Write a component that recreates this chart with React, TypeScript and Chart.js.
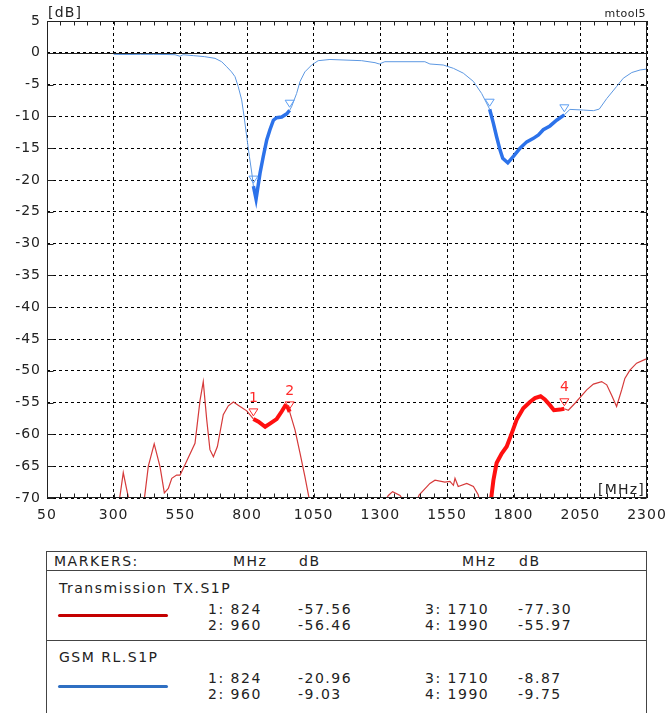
import React, { useEffect, useRef } from 'react';
import { Chart, registerables } from 'chart.js';

Chart.register(...registerables);

// ---------- data ----------
const xTickValues = [50, 300, 550, 800, 1050, 1300, 1550, 1800, 2050, 2300];
const yTickValues = [5, 0, -5, -10, -15, -20, -25, -30, -35, -40, -45, -50, -55, -60, -65, -70];

const blueFreq = [
  300, 350, 400, 450, 500, 530, 549, 560, 600, 640, 680, 705, 724, 742, 755, 767, 780, 789, 799, 809, 818,
  824, 834, 849, 861, 874, 886, 899, 911, 930, 949, 960, 967, 986, 999, 1017, 1043, 1067, 1111, 1230, 1280,
  1296, 1317, 1467, 1486, 1536, 1574, 1611, 1649, 1680, 1710, 1724, 1736, 1749, 1759, 1778, 1799, 1824, 1849,
  1874, 1893, 1911, 1936, 1961, 1990, 2011, 2061, 2099, 2121, 2149, 2186, 2211, 2243, 2274, 2300,
];
const blueDb = [
  -0.25, -0.27, -0.25, -0.25, -0.27, -0.3, -0.55, -0.3, -0.45, -0.6, -0.87, -1.4, -2.2, -3.0, -3.75, -5.3, -7.4,
  -10.0, -13.2, -16.3, -18.9, -20.96, -23.0, -18.9, -16.3, -13.7, -12.1, -10.6, -10.2, -10.1, -9.6, -9.03, -8.5,
  -6.4, -4.5, -3.0, -1.9, -1.24, -1.05, -1.24, -1.55, -1.76, -1.4, -1.4, -1.76, -1.92, -2.44, -3.2, -4.5, -6.4,
  -8.87, -11.1, -13.2, -15.3, -16.6, -17.3, -16.3, -15.0, -14.0, -13.45, -12.9, -12.1, -11.5, -10.6, -9.75,
  -8.9, -9.0, -9.1, -8.85, -7.2, -5.3, -4.0, -3.1, -2.7, -2.55,
];

const redFreq = [
  300, 321, 336, 348, 361, 385, 414, 430, 452, 474, 490, 505, 518, 536, 549, 567, 605, 624, 636, 649, 661, 674,
  689, 711, 730, 749, 774, 799, 824, 843, 868, 886, 911, 930, 943, 952, 960, 980, 999, 1017, 1034, 1060, 1150,
  1280, 1310, 1330, 1346, 1374, 1395, 1420, 1446, 1486, 1505, 1542, 1561, 1574, 1580, 1592, 1624, 1649, 1667,
  1680, 1710, 1715, 1724, 1736, 1755, 1774, 1793, 1811, 1836, 1861, 1880, 1901, 1917, 1936, 1951, 1974, 1990,
  2005, 2030, 2074, 2099, 2130, 2149, 2167, 2186, 2205, 2217, 2236, 2261, 2293, 2300,
];
const redDb = [
  -78, -70.5, -66.0, -68.5, -71, -75, -70.5, -65, -61.5, -65.1, -69.2, -68.5, -66.9, -66.4, -66.4, -64.8, -61.4,
  -54.6, -51.7, -57.7, -62.4, -63.5, -61.9, -56.9, -55.5, -54.9, -55.6, -56.3, -57.56, -58.0, -58.8, -58.3,
  -57.6, -56.4, -55.5, -55.7, -56.46, -59.3, -63.0, -66.6, -70.3, -76, -80, -75, -71, -69.6, -69.0, -69.6, -71,
  -72, -69.5, -67.7, -67.2, -67.5, -67.4, -68.0, -66.9, -68.2, -67.7, -68.2, -69.5, -72, -77.3, -70.3, -67.2,
  -64.5, -63.0, -61.9, -59.8, -57.7, -55.9, -54.9, -54.3, -54.0, -54.5, -55.4, -56.2, -56.1, -55.97, -56.2,
  -55.1, -53.0, -52.1, -51.7, -52.2, -53.8, -55.6, -53.0, -51.2, -49.9, -48.8, -48.2, -48.1,
];

const markerFreq = [824, 960, 1710, 1990];
const markerLabels = ['1', '2', '3', '4'];
const redMarkerDb = [-57.56, -56.46, -77.3, -55.97];
const blueMarkerDb = [-20.96, -9.03, -8.87, -9.75];
const seriesNames = ['Transmission TX.S1P', 'GSM RL.S1P'];

// ---------- styles ----------
const FONT = 'DejaVu Sans';
const RED_THIN = '#d63a3a';
const RED_THICK = '#ff1010';
const BLUE_THIN = '#5d98e2';
const BLUE_THICK = '#2c72ea';

const thickRanges: [number, number][] = [
  [markerFreq[0], markerFreq[1]],
  [markerFreq[2], markerFreq[3]],
];
const isThick = (c: any) =>
  thickRanges.some(([a, b]) => c.p0.parsed.x >= a && c.p1.parsed.x <= b);

const framePlugin = {
  id: 'frame',
  beforeDraw(chart: any) {
    chart.ctx.letterSpacing = '1px';
  },
  beforeDatasetsDraw(chart: any) {
    const { ctx, chartArea: a, scales } = chart;
    const y0 = Math.round(scales.y.getPixelForValue(0)) + 0.5;
    ctx.save();
    ctx.strokeStyle = '#222';
    ctx.lineWidth = 1;
    ctx.setLineDash([]);
    ctx.beginPath();
    ctx.moveTo(a.left, y0);
    ctx.lineTo(a.right, y0);
    ctx.stroke();
    ctx.restore();
  },
  afterDatasetsDraw(chart: any) {
    const { ctx, chartArea: a, scales } = chart;
    const xs = scales.x;
    const ys = scales.y;
    ctx.save();
    ctx.setLineDash([]);
    ctx.strokeStyle = '#222';
    ctx.lineWidth = 1;
    const L = Math.round(a.left) + 0.5;
    const R = Math.round(a.right) - 0.5;
    const T = Math.round(a.top) + 0.5;
    const B = Math.round(a.bottom) - 0.5;
    ctx.strokeRect(L, T, R - L, B - T);
    ctx.beginPath();
    for (let f = xTickValues[0]; f <= xTickValues[xTickValues.length - 1]; f += 50) {
      const px = Math.round(xs.getPixelForValue(f)) + 0.5;
      ctx.moveTo(px, T);
      ctx.lineTo(px, T + 4);
      ctx.moveTo(px, B);
      ctx.lineTo(px, B - 4);
    }
    yTickValues.forEach((v) => {
      const py = Math.round(ys.getPixelForValue(v)) + 0.5;
      ctx.moveTo(L, py);
      ctx.lineTo(L + 6, py);
      ctx.moveTo(R, py);
      ctx.lineTo(R - 6, py);
    });
    ctx.stroke();

    // markers
    const drawMarker = (f: number, db: number, color: string, label: string | null) => {
      const px = xs.getPixelForValue(f);
      const py = ys.getPixelForValue(db);
      if (py > a.bottom || py < a.top) return;
      const tip = py - 3;
      ctx.strokeStyle = color;
      ctx.lineWidth = 1;
      ctx.beginPath();
      ctx.moveTo(px - 4.5, tip - 7);
      ctx.lineTo(px + 4.5, tip - 7);
      ctx.lineTo(px, tip);
      ctx.closePath();
      ctx.stroke();
      if (label) {
        ctx.fillStyle = color;
        ctx.font = `14px "${FONT}"`;
        ctx.textAlign = 'center';
        ctx.textBaseline = 'middle';
        ctx.fillText(label, px + 0.5, tip - 18);
      }
    };
    markerFreq.forEach((f, i) => {
      drawMarker(f, blueMarkerDb[i], '#5c9ef2', null);
      drawMarker(f, redMarkerDb[i], '#ff2a2a', markerLabels[i]);
    });
    ctx.restore();
  },
  afterDraw(chart: any) {
    const { ctx, chartArea: a } = chart;
    ctx.save();
    ctx.fillStyle = '#222';
    ctx.textBaseline = 'middle';
    ctx.font = `14px "${FONT}"`;
    ctx.letterSpacing = '1.2px';
    ctx.textAlign = 'left';
    ctx.fillText('[dB]', a.left + 1, 13);
    ctx.textAlign = 'right';
    ctx.fillText('[MHz]', a.right - 2, 490);
    ctx.font = `11px "${FONT}"`;
    ctx.letterSpacing = '0.5px';
    ctx.fillText('mtool5', a.right - 1, 14);
    ctx.restore();
  },
};

type TextItem = { t: string; x: number; y: number };

export default function App() {
  const ref = useRef<HTMLCanvasElement | null>(null);

  useEffect(() => {
    if (!ref.current) return;
    const tickFont = { family: FONT, size: 14 };
    const chart = new Chart(ref.current, {
      type: 'line',
      data: {
        datasets: [
          {
            label: seriesNames[1],
            data: blueFreq.map((x, i) => ({ x, y: blueDb[i] })),
            borderColor: BLUE_THIN,
            borderWidth: 1,
            pointRadius: 0,
            clip: 0,
            segment: {
              borderWidth: (c: any) => (isThick(c) ? 3.5 : 1),
              borderColor: (c: any) => (isThick(c) ? BLUE_THICK : BLUE_THIN),
            },
          } as any,
          {
            label: seriesNames[0],
            data: redFreq.map((x, i) => ({ x, y: redDb[i] })),
            borderColor: RED_THIN,
            borderWidth: 1.2,
            pointRadius: 0,
            clip: 0,
            segment: {
              borderWidth: (c: any) => (isThick(c) ? 4 : 1.2),
              borderColor: (c: any) => (isThick(c) ? RED_THICK : RED_THIN),
            },
          } as any,
        ],
      },
      options: {
        animation: false,
        responsive: false,
        devicePixelRatio: 1,
        layout: { padding: { top: 21, right: 20, left: 0, bottom: 0 } },
        plugins: { legend: { display: false }, tooltip: { enabled: false } },
        elements: { line: { tension: 0 }, point: { radius: 0 } },
        scales: {
          x: {
            type: 'linear',
            min: 50,
            max: 2300,
            afterBuildTicks: (s: any) => {
              s.ticks = xTickValues.map((v) => ({ value: v }));
            },
            afterFit: (s: any) => {
              s.height = 32;
              s.paddingLeft = 0;
              s.paddingRight = 0;
            },
            grid: { color: '#000', lineWidth: 1, drawTicks: false },
            border: { display: false, dash: [3, 3] },
            ticks: {
              font: tickFont,
              color: '#222',
              padding: 9,
              maxRotation: 0,
              autoSkip: false,
              callback: (v: any) => String(v),
            },
          },
          y: {
            type: 'linear',
            min: -70,
            max: 5,
            afterBuildTicks: (s: any) => {
              s.ticks = yTickValues.map((v) => ({ value: v }));
            },
            afterFit: (s: any) => {
              s.width = 47;
              s.paddingTop = 0;
              s.paddingBottom = 0;
            },
            grid: { color: '#000', lineWidth: 1, drawTicks: false },
            border: { display: false, dash: [3, 3] },
            ticks: {
              font: tickFont,
              color: '#222',
              padding: 6,
              autoSkip: false,
              callback: (v: any) => String(v),
            },
          },
        },
      } as any,
      plugins: [framePlugin],
    });
    return () => chart.destroy();
  }, []);

  const colMHz1 = 208;
  const colDb1 = 298;
  const colMHz2 = 425;
  const colDb2 = 518;
  const rowsY = [
    [609, 625],
    [678, 694],
  ];
  const markerDbBySeries = [redMarkerDb, blueMarkerDb];

  const texts: TextItem[] = [
    { t: 'MARKERS:', x: 54, y: 561 },
    { t: 'MHz', x: 233, y: 561 },
    { t: 'dB', x: 299, y: 561 },
    { t: 'MHz', x: 462, y: 561 },
    { t: 'dB', x: 519, y: 561 },
    { t: seriesNames[0], x: 59, y: 588 },
    { t: seriesNames[1], x: 59, y: 657 },
  ];
  markerDbBySeries.forEach((dbs, s) => {
    [0, 1].forEach((r) => {
      const y = rowsY[s][r];
      texts.push({ t: `${markerLabels[r]}: ${markerFreq[r]}`, x: colMHz1, y });
      texts.push({ t: dbs[r].toFixed(2), x: colDb1, y });
      texts.push({ t: `${markerLabels[r + 2]}: ${markerFreq[r + 2]}`, x: colMHz2, y });
      texts.push({ t: dbs[r + 2].toFixed(2), x: colDb2, y });
    });
  });

  const line = (top: number, left: number, width: number, height: number, bg: string, radius = 0) => (
    <div
      style={{
        position: 'absolute',
        top,
        left,
        width,
        height,
        background: bg,
        borderRadius: radius,
      }}
    />
  );

  return (
    <div style={{ position: 'absolute', left: 0, top: 0, width: 667, height: 713, overflow: 'hidden', background: '#fff' }}>
      <canvas ref={ref} width={667} height={530} style={{ position: 'absolute', left: 0, top: 0, width: 667, height: 530 }} />
      {/* table frame */}
      {line(551, 46, 601, 1, '#444')}
      {line(551, 46, 1, 162, '#444')}
      {line(551, 646, 1, 162, '#444')}
      {line(570, 46, 601, 1, '#444')}
      {line(640, 46, 601, 1, '#444')}
      {line(613.5, 58, 110, 3, '#c40000', 1.5)}
      {line(684.5, 58, 110, 3, '#2f6fc2', 1.5)}
      {texts.map((it, i) => (
        <span
          key={i}
          style={{
            position: 'absolute',
            left: it.x,
            top: it.y - 8,
            font: `14px/16px "${FONT}"`,
            letterSpacing: '1.5px',
            color: '#222',
            whiteSpace: 'pre',
          }}
        >
          {it.t}
        </span>
      ))}
    </div>
  );
}
